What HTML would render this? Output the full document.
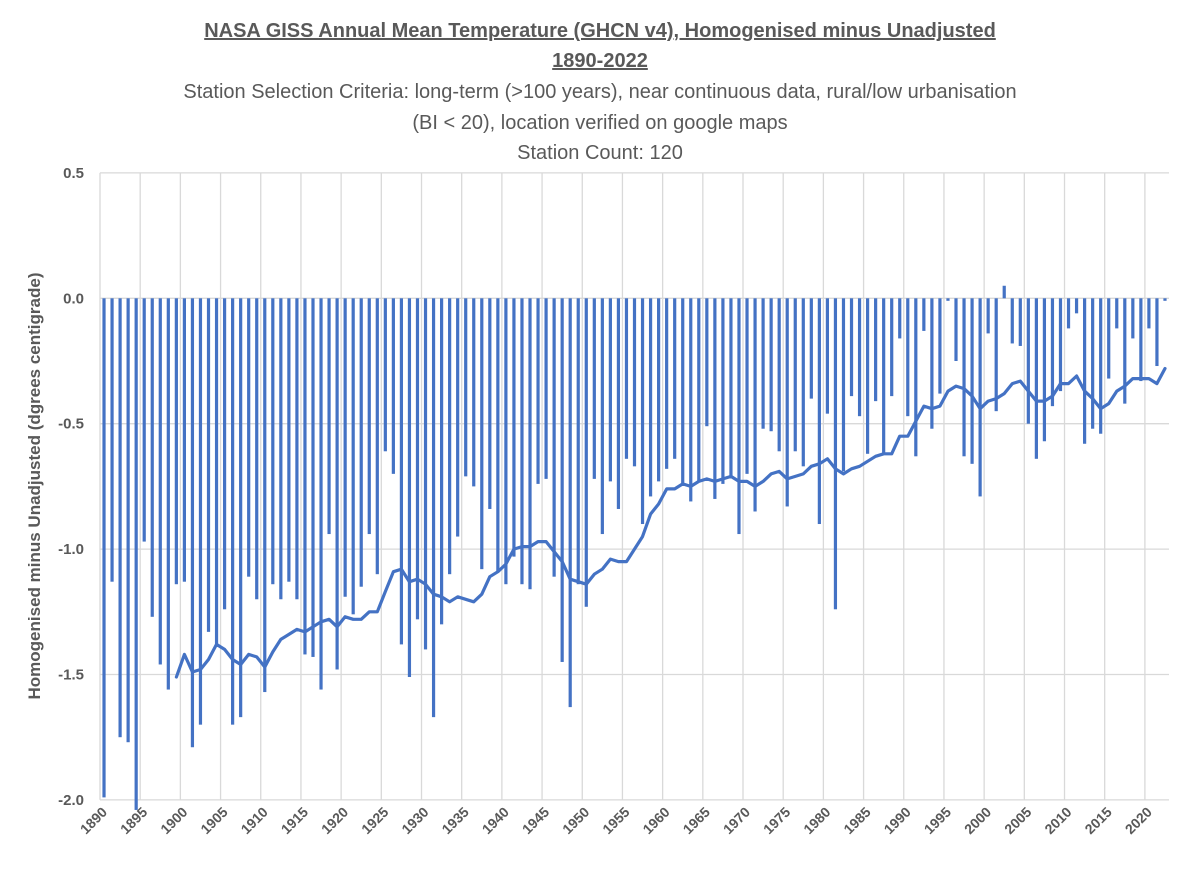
<!DOCTYPE html>
<html><head><meta charset="utf-8">
<style>
body{margin:0;background:#fff;}
svg{display:block;font-family:"Liberation Sans",Arial,sans-serif;}
</style></head>
<body>
<svg id="chart" width="1200" height="871" viewBox="0 0 1200 871">
<text x="600" y="37" text-anchor="middle" font-size="20" font-weight="bold" fill="#595959" text-decoration="underline">NASA GISS Annual Mean Temperature (GHCN v4), Homogenised minus Unadjusted</text>
<text x="600" y="67" text-anchor="middle" font-size="20" font-weight="bold" fill="#595959" text-decoration="underline">1890-2022</text>
<text x="600" y="98" text-anchor="middle" font-size="20" fill="#595959">Station Selection Criteria: long-term (&gt;100 years), near continuous data, rural/low urbanisation</text>
<text x="600" y="129" text-anchor="middle" font-size="20" fill="#595959">(BI &lt; 20), location verified on google maps</text>
<text x="600" y="159" text-anchor="middle" font-size="20" fill="#595959">Station Count: 120</text>
<text transform="translate(40,486) rotate(-90)" text-anchor="middle" font-size="17" font-weight="bold" fill="#595959">Homogenised minus Unadjusted (dgrees centigrade)</text>
<g id="grid"></g><g id="bars"></g><g id="line"></g><g id="yticks"></g><g id="xticks"></g>
</svg>
<script>
const startYear = 1890;
const barValues = [-1.99,-1.13,-1.75,-1.77,-2.04,-0.97,-1.27,-1.46,-1.56,-1.14,
-1.13,-1.79,-1.70,-1.33,-1.38,-1.24,-1.70,-1.67,-1.11,-1.20,
-1.57,-1.14,-1.20,-1.13,-1.20,-1.42,-1.43,-1.56,-0.94,-1.48,
-1.19,-1.26,-1.15,-0.94,-1.10,-0.61,-0.70,-1.38,-1.51,-1.28,
-1.40,-1.67,-1.30,-1.10,-0.95,-0.71,-0.75,-1.08,-0.84,-1.09,
-1.14,-1.03,-1.14,-1.16,-0.74,-0.72,-1.11,-1.45,-1.63,-1.14,
-1.23,-0.72,-0.94,-0.73,-0.84,-0.64,-0.67,-0.90,-0.79,-0.73,
-0.68,-0.64,-0.74,-0.81,-0.73,-0.51,-0.80,-0.74,-0.71,-0.94,
-0.70,-0.85,-0.52,-0.53,-0.61,-0.83,-0.61,-0.67,-0.40,-0.90,
-0.46,-1.24,-0.69,-0.39,-0.47,-0.62,-0.41,-0.62,-0.39,-0.16,
-0.47,-0.63,-0.13,-0.52,-0.38,-0.01,-0.25,-0.63,-0.66,-0.79,
-0.14,-0.45,0.05,-0.18,-0.19,-0.50,-0.64,-0.57,-0.43,-0.37,
-0.12,-0.06,-0.58,-0.52,-0.54,-0.32,-0.12,-0.42,-0.16,-0.33,
-0.12,-0.27,-0.01];
const lineStartYear = 1899;
const lineValues = [-1.51,-1.42,-1.49,-1.48,-1.44,-1.38,-1.40,-1.44,-1.46,-1.42,
-1.43,-1.47,-1.41,-1.36,-1.34,-1.32,-1.33,-1.31,-1.29,-1.28,
-1.31,-1.27,-1.28,-1.28,-1.25,-1.25,-1.17,-1.09,-1.08,-1.13,
-1.12,-1.14,-1.18,-1.19,-1.21,-1.19,-1.20,-1.21,-1.18,-1.11,
-1.09,-1.06,-1.00,-0.99,-0.99,-0.97,-0.97,-1.01,-1.05,-1.12,
-1.13,-1.14,-1.10,-1.08,-1.04,-1.05,-1.05,-1.00,-0.95,-0.86,
-0.82,-0.76,-0.76,-0.74,-0.75,-0.73,-0.72,-0.73,-0.72,-0.71,
-0.73,-0.73,-0.75,-0.73,-0.70,-0.69,-0.72,-0.71,-0.70,-0.67,
-0.66,-0.64,-0.68,-0.70,-0.68,-0.67,-0.65,-0.63,-0.62,-0.62,
-0.55,-0.55,-0.49,-0.43,-0.44,-0.43,-0.37,-0.35,-0.36,-0.39,
-0.44,-0.41,-0.40,-0.38,-0.34,-0.33,-0.37,-0.41,-0.41,-0.39,
-0.34,-0.34,-0.31,-0.37,-0.40,-0.44,-0.42,-0.37,-0.35,-0.32,
-0.32,-0.32,-0.34,-0.28];
const yTicks = [0.5,0.0,-0.5,-1.0,-1.5,-2.0];
const yTickLabels = ["0.5","0.0","-0.5","-1.0","-1.5","-2.0"];

const NS="http://www.w3.org/2000/svg";
const L=100, R=1169, Y0=298.3, UNIT=250.8;
const band=(R-L)/barValues.length;
function xPos(year){return L+band*(year-startYear)+band/2;}
function yPos(v){return Y0-v*UNIT;}
function mk(tag,attrs,parent){const e=document.createElementNS(NS,tag);for(const k in attrs)e.setAttribute(k,attrs[k]);parent.appendChild(e);return e;}
const grid=document.getElementById('grid');
yTicks.forEach((t,i)=>{
  const g=mk('line',{x1:L,x2:R,y1:yPos(t),y2:yPos(t),stroke:'#d9d9d9','stroke-width':1.3},grid);
  
  
  const tx=mk('text',{x:84,y:yPos(t)+5,'text-anchor':'end','font-size':15,'font-weight':'bold',fill:'#595959'},document.getElementById('yticks'));
  tx.textContent=yTickLabels[i];
  
  
});
for(let y=startYear;y<startYear+barValues.length;y+=5){
  const gx=L+band*(y-startYear);
  const g=mk('line',{x1:gx,x2:gx,y1:yPos(0.5),y2:yPos(-2.0),stroke:'#d9d9d9','stroke-width':1.3},grid);
  
  
  const cx=xPos(y);
  const tx=mk('text',{x:0,y:0,'text-anchor':'end','font-size':14,'font-weight':'bold',fill:'#595959',transform:`translate(${cx+4},${813}) rotate(-45)`},document.getElementById('xticks'));
  tx.textContent=String(y);
  
  
}
const bars=document.getElementById('bars');
barValues.forEach((v,i)=>{
  const cx=xPos(startYear+i);
  const y1=yPos(Math.max(v,0)), y2=yPos(Math.min(v,0));
  const r=mk('rect',{x:cx-1.6,y:y1,width:3.2,height:Math.max(y2-y1,0.8),fill:'#4472C4'},bars);
  
  
});
const pts=lineValues.map((v,i)=>xPos(lineStartYear+i).toFixed(1)+','+yPos(v).toFixed(1)).join(' ');
const pl=mk('polyline',{points:pts,fill:'none',stroke:'#4472C4','stroke-width':3.2,'stroke-linejoin':'round','stroke-linecap':'round'},document.getElementById('line'));


</script>
</body></html>
